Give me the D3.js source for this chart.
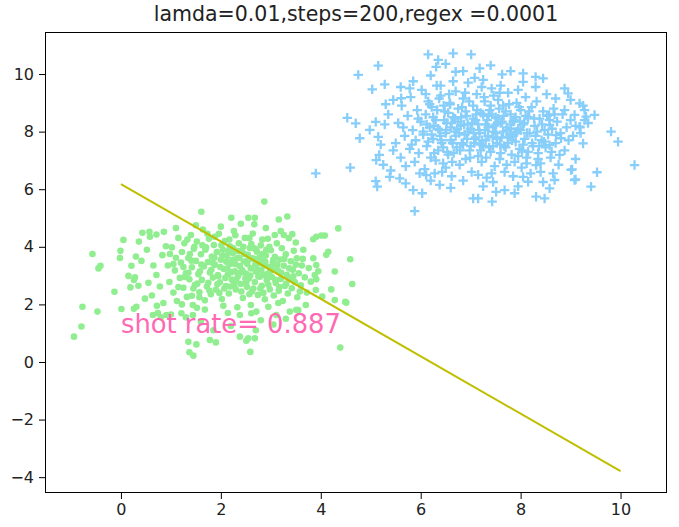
<!DOCTYPE html>
<html><head><meta charset="utf-8">
<script src="https://cdn.jsdelivr.net/npm/d3@7"></script>
<style>body{margin:0;background:#fff}svg{display:block}text{font-family:"DejaVu Sans",sans-serif}</style>
</head><body>
<script>
const titleText = "lamda=0.01,steps=200,regex =0.0001";
const annotText = "shot rate= 0.887";
const annotPos = [0, 1.0];
const xTicks = [0, 2, 4, 6, 8, 10];
const yTicks = [-4, -2, 0, 2, 4, 6, 8, 10];
const xLimits = [-1.52, 10.93];
const yLimits = [-4.55, 11.46];
const lineX = [0, 10];
const lineY = [6.18, -3.79];

const greenPts = [
[-0.94,0.88],[-0.79,1.23],[-0.77,1.92],[-0.47,1.75],[-0.57,3.75],[-0.45,3.25],[-0.41,3.34],[-0.13,2.44],[0.01,1.84],[0.26,1.85],[0.31,1.92],[0.05,4.24],[-0.01,3.86],[-0.02,3.61],[0.36,4.18],[0.43,4.49],[0.57,4.52],[0.58,4.35],[0.71,4.43],[0.86,4.52],[0.21,3.34],[0.15,2.99],[0.28,2.94],[0.26,2.85],[0.19,2.59],[0.35,2.65],[0.30,3.66],[0.41,3.51],[1.35,0.70],[1.51,0.61],[1.37,0.34],[1.45,0.22],[1.61,5.22],[2.87,5.57],[2.21,5.01],[2.55,5.01],[2.68,5.01],[3.16,4.95],[3.33,5.05],[2.67,4.78],[3.08,4.41],[3.26,4.41],[3.43,4.44],[3.85,4.26],[3.91,4.35],[4.01,4.39],[4.08,4.39],[4.35,4.64],[4.15,3.83],[4.11,3.72],[4.59,3.57],[3.91,3.37],[4.28,3.14],[3.88,3.02],[3.91,2.87],[4.21,2.52],[4.63,2.71],[4.03,2.27],[4.28,2.15],[4.49,2.09],[4.39,0.50],[2.59,0.35],[2.38,0.88],[2.55,0.82],[2.68,0.82],[1.90,0.68],[1.78,0.76],[2.51,0.74],
[0.64,1.63],[0.74,1.70],[0.91,1.63],[1.21,1.69],[1.44,1.63],[2.14,1.70],[2.38,1.63],[2.61,1.69],[2.71,1.75],[3.11,1.63],[3.38,1.75],[3.51,1.81],[4.51,2.06],
[0.62,2.31],[0.71,3.02],[0.78,2.62],[0.83,3.71],[0.85,2.05],[0.9,4.02],[0.94,3.35],[0.97,2.78],[1.02,3.98],[1.05,2.41],[1.08,3.18],[1.1,3.62],[1.12,2.12],[1.15,4.31],[1.18,2.92],[1.2,3.45],[1.22,3.82],[1.25,2.58],[1.27,4.12],[1.3,3.08],[1.32,2.26],[1.35,3.61],[1.37,2.87],[1.4,4.41],[1.42,3.29],[1.44,1.98],[1.46,3.93],[1.48,2.67],[1.5,3.51],[1.52,4.18],[1.55,3.05],[1.57,2.42],[1.6,3.74],[1.62,2.85],[1.64,4.6],[1.66,3.32],[1.68,2.14],[1.7,3.98],[1.72,2.62],[1.74,3.47],[1.76,4.28],[1.78,3.11],[1.8,2.35],[1.82,3.66],[1.84,2.93],[1.86,4.06],[1.88,3.38],[1.9,2.51],[1.92,3.82],[1.94,3.02],[1.96,4.45],[1.98,2.77],[2.0,3.55],[2.02,2.19],[2.04,3.9],[2.06,3.23],[2.08,4.2],[2.1,2.64],[2.12,3.68],[2.14,3.04],[2.16,2.38],[2.18,4.02],[2.2,3.41],[2.22,2.86],[2.24,3.78],[2.26,4.55],[2.28,3.15],[2.3,2.52],[2.32,3.6],[2.34,2.98],[2.36,4.12],[2.38,3.33],[2.4,2.71],[2.42,3.86],[2.44,2.22],[2.46,3.49],[2.48,4.31],[2.5,3.07],[2.52,2.61],[2.54,3.72],[2.56,2.9],[2.58,3.96],[2.6,3.25],[2.62,2.45],[2.64,4.46],[2.66,3.58],[2.68,2.78],[2.7,3.14],[2.72,3.83],[2.74,2.33],[2.76,3.42],[2.78,2.96],[2.8,4.05],[2.82,2.65],[2.84,3.51],[2.86,3.02],[2.88,2.18],[2.9,3.7],[2.92,2.84],[2.94,4.28],[2.96,3.3],[2.98,2.52],[3.0,3.88],[3.02,2.95],[3.04,3.44],[3.06,2.31],[3.08,3.65],[3.1,2.74],[3.12,4.12],[3.14,3.18],[3.16,2.47],[3.18,3.56],[3.2,2.88],[3.22,3.95],[3.24,2.12],[3.26,3.34],[3.28,2.64],[3.3,3.74],[3.32,3.03],[3.34,2.38],[3.36,4.3],[3.38,2.9],[3.4,3.5],[3.42,2.56],[3.44,3.2],[3.46,3.86],[3.48,2.78],[3.5,3.38],[3.53,2.25],[3.56,3.08],[3.6,2.66],[3.64,3.58],[3.68,2.94],[3.72,2.41],[3.76,3.26],[3.8,2.79],[3.85,3.6],[3.9,2.5],[3.95,3.15],
[1.25,3.3],[1.38,3.75],[1.45,2.55],[1.58,3.15],[1.63,4.05],[1.75,2.75],[1.83,3.45],[1.88,4.35],[1.95,2.98],[2.03,3.7],[2.07,2.55],[2.13,3.25],[2.17,4.25],[2.23,3.55],[2.27,2.7],[2.35,3.85],[2.39,3.1],[2.45,4.0],[2.49,2.9],[2.53,3.4],[2.57,2.35],[2.63,3.6],[2.67,3.95],[2.73,3.2],[2.79,2.55],[2.83,3.75],[2.87,3.35],[2.93,3.05],[2.97,4.0],[3.03,3.25],[1.15,2.6],[1.05,3.4],[0.98,3.75],[1.33,4.25],[1.52,1.88],[1.68,1.82],[2.05,1.95],[2.33,1.9],[2.6,1.98],[2.95,1.92],[3.15,2.05],[0.72,1.95],[0.65,3.35],[0.55,2.75],[0.48,2.2],[0.52,3.9],[1.0,1.65],[1.3,1.55],[2.8,1.45],[3.3,1.5],[3.05,1.3],[1.6,1.4],[2.2,1.25],[1.85,1.1],[2.7,1.1],[3.55,1.8],[3.7,1.98],[1.1,4.65],[1.5,4.75],[2.0,4.7],[2.4,4.8],[2.9,4.65],[3.2,4.55],[3.5,4.15],[3.65,3.9],[0.8,1.55],
[1.28,2.95],[1.41,3.52],[1.53,2.72],[1.61,3.38],[1.69,3.9],[1.77,2.48],[1.81,3.2],[1.87,3.62],[1.93,2.7],[1.99,3.3],[2.01,4.05],[2.09,2.92],[2.11,3.48],[2.15,3.85],[2.19,2.62],[2.21,3.12],[2.25,3.95],[2.29,3.4],[2.31,2.85],[2.37,3.62],[2.41,2.45],[2.43,3.18],[2.47,3.75],[2.51,2.78],[2.55,3.55],[2.59,3.0],[2.61,4.1],[2.65,2.55],[2.69,3.38],[2.71,3.9],[2.75,2.98],[2.77,3.62],[2.81,3.18],[2.85,2.4],[2.89,3.48],[2.91,3.9],[2.95,2.68],[2.99,3.15],[3.05,3.55],[3.09,2.85],[3.13,3.38],[3.17,2.6],[3.21,3.1],[3.27,3.58],[3.31,2.72],[3.37,3.25],[3.45,2.98],[3.52,3.6],[1.35,3.1],[1.47,4.0],[1.57,2.25],[1.73,4.45],[1.97,2.4],[2.29,4.4],[2.57,4.3],[2.83,4.25],[1.22,2.0],[1.42,2.3],[3.58,2.45],[3.62,3.35]
];

const bluePts = [
[6.15,10.68],[6.65,10.72],[6.35,10.49],[6.31,10.25],[5.15,10.29],[4.75,9.97],[5.03,9.47],[5.28,9.64],[6.70,10.08],[4.53,8.48],[4.70,8.29],[4.78,7.77],[4.98,8.06],[5.10,8.34],[5.28,8.25],[5.15,7.82],[4.59,6.75],[5.10,6.28],[5.13,6.09],[5.88,5.24],[5.85,5.97],[6.03,5.86],[5.45,9.1],[5.61,9.16],[5.78,9.5],[5.38,6.43],[5.58,6.38],[5.17,7.19],[5.11,7.01],[5.98,6.55],[6.11,6.49],[6.38,6.15],[3.90,6.55],
[7.01,10.68],[7.18,10.2],[7.08,9.87],[7.63,9.99],[8.05,10.02],[8.05,9.73],[8.45,9.85],[8.88,9.5],[8.95,9.33],[9.18,8.98],[8.88,8.75],[9.08,8.58],[9.28,8.75],[9.31,8.52],[9.18,8.17],[8.57,8.58],[8.58,8.23],[8.71,7.88],[8.81,7.77],[9.25,7.59],[8.58,7.53],[8.78,7.19],[9.1,7.05],[8.35,7.05],[8.31,6.84],[9.01,6.67],[8.65,6.55],[8.68,6.32],[9.08,6.32],[8.58,6.03],[8.05,6.43],[7.88,5.86],[7.68,5.97],[7.51,5.91],[7.05,5.68],[7.15,5.68],[7.43,5.57],[8.15,6.26],[8.31,5.74],[8.48,5.68],
[9.48,8.58],[9.28,8.40],[9.19,8.15],[9.81,8.0],[9.95,7.65],[10.28,6.84],[9.53,6.59],[9.03,6.69],[9.1,6.34],[9.41,6.09],
[5.5,7.6],[5.55,8.3],[5.6,7.1],[5.62,8.9],[5.68,7.85],[5.7,6.8],[5.74,8.55],[5.78,7.4],[5.8,9.2],[5.84,8.05],[5.88,6.95],[5.9,7.7],[5.93,8.75],[5.96,7.25],[6.0,8.35],[6.02,9.45],[6.05,7.9],[6.08,6.7],[6.1,8.6],[6.12,7.5],[6.15,9.05],[6.18,8.15],[6.2,7.1],[6.22,8.85],[6.25,7.75],[6.28,6.55],[6.3,8.4],[6.32,9.6],[6.35,7.35],[6.38,8.05],[6.4,9.25],[6.42,7.6],[6.45,6.9],[6.48,8.7],[6.5,7.95],[6.52,8.3],[6.55,7.2],[6.58,9.0],[6.6,7.7],[6.62,6.45],[6.65,8.5],[6.68,8.0],[6.7,9.4],[6.72,7.45],[6.75,8.8],[6.78,6.85],[6.8,8.2],[6.82,7.6],[6.85,9.15],[6.88,7.9],[6.9,7.05],[6.92,8.55],[6.95,9.7],[6.98,7.35],[7.0,8.1],[7.02,6.6],[7.05,8.9],[7.08,7.75],[7.1,8.4],[7.12,9.3],[7.15,7.15],[7.18,7.95],[7.2,8.65],[7.22,6.95],[7.25,7.5],[7.28,9.05],[7.3,8.25],[7.32,6.4],[7.35,7.85],[7.38,8.75],[7.4,7.3],[7.42,9.5],[7.45,8.0],[7.48,6.8],[7.5,8.5],[7.52,7.6],[7.55,9.1],[7.58,7.05],[7.6,8.3],[7.62,7.8],[7.65,8.9],[7.68,6.6],[7.7,7.45],[7.72,8.15],[7.75,9.35],[7.78,7.9],[7.8,8.6],[7.82,7.2],[7.85,8.35],[7.88,6.95],[7.9,7.65],[7.92,9.0],[7.95,8.1],[7.98,7.4],[8.0,8.75],[8.02,6.75],[8.05,8.25],[8.08,7.75],[8.1,9.2],[8.12,7.1],[8.15,8.5],[8.18,7.95],[8.2,6.55],[8.22,8.85],[8.25,7.5],[8.28,8.2],[8.3,7.85],[8.32,9.05],[8.35,7.25],[8.38,8.45],[8.4,6.9],[8.42,7.7],[8.45,8.7],[8.48,8.05],[8.5,7.45],[8.52,9.3],[8.55,7.9],[8.58,8.4],[8.6,7.1],[8.63,8.1],[8.66,8.8],[8.7,7.6],[8.73,8.35],[8.76,6.85],[8.8,7.95],[8.84,8.6],[8.88,7.35],[8.92,8.15],[8.96,7.7],[9.0,8.4],[9.05,7.85],[9.1,8.2],[9.2,7.95],[9.35,8.3],
[6.05,8.0],[6.15,7.65],[6.25,8.5],[6.35,8.1],[6.45,7.45],[6.55,8.65],[6.6,8.15],[6.7,7.85],[6.75,8.35],[6.85,7.55],[6.9,8.7],[6.95,8.0],[7.0,7.5],[7.05,8.45],[7.1,7.8],[7.15,8.25],[7.2,7.35],[7.25,8.6],[7.3,7.7],[7.35,8.15],[7.4,8.9],[7.45,7.5],[7.5,7.95],[7.55,8.45],[7.6,7.25],[7.65,8.0],[7.7,8.7],[7.75,7.6],[7.8,8.25],[7.85,7.85],[7.9,8.5],[7.95,7.15],[8.0,8.05],[8.05,7.55],[8.1,8.55],[8.15,7.3],[6.3,7.0],[6.5,6.75],[6.85,6.3],[7.15,6.5],[7.45,6.25],[7.85,6.45],[6.1,9.3],[6.4,9.6],[6.65,9.75],[7.25,9.8],[7.6,9.6],[7.95,9.45],[8.3,9.55],[6.2,6.3],[5.7,6.2],[6.6,6.05],[7.25,6.1],[7.95,6.1],[8.45,6.25],[5.35,8.6],[5.45,7.35],[5.3,8.95],[5.6,9.55],[5.85,9.75],[6.2,9.95],[6.85,10.1],[7.4,10.3],[6.5,10.35],[7.8,10.1],[8.3,9.9],[8.7,9.15],[9.0,9.1],[9.25,8.9],[8.4,6.6],[5.2,7.55],[5.25,6.85],[5.4,6.65],
[6.22,7.9],[6.33,8.75],[6.41,7.7],[6.47,8.4],[6.53,7.3],[6.59,8.95],[6.64,7.6],[6.69,8.45],[6.73,8.1],[6.79,7.35],[6.83,8.85],[6.87,8.25],[6.93,7.75],[6.97,9.05],[7.03,8.3],[7.07,7.6],[7.13,8.75],[7.17,8.05],[7.23,7.7],[7.27,9.2],[7.33,8.4],[7.37,7.45],[7.43,8.6],[7.47,8.2],[7.53,7.75],[7.57,8.8],[7.63,8.35],[7.67,7.5],[7.73,8.05],[7.77,8.95],[7.83,7.7],[7.87,8.4],[7.93,8.0],[7.97,8.85],[8.03,7.35],[8.07,8.3],[8.13,7.95],[8.17,8.7],[8.23,7.6],[8.27,8.45],[8.33,8.0],[8.37,7.5],[8.43,8.25],[8.47,7.65],[8.53,8.55],[6.12,8.25],[6.18,8.95],[6.27,7.25],[6.37,9.15],[6.43,6.6],[6.57,9.3],[6.63,6.95],[7.22,9.55],[7.58,9.35],[7.42,6.55],[7.72,6.85],[8.12,6.9],[8.62,7.3],[8.68,8.6],[5.95,8.45],[5.82,7.55],[5.65,8.15],
[6.26,8.2],[6.39,7.85],[6.51,8.05],[6.62,8.3],[6.77,7.95],[6.81,8.5],[6.94,8.25],[7.06,7.95],[7.11,8.6],[7.19,7.55],[7.29,8.05],[7.36,8.55],[7.44,7.8],[7.51,8.25],[7.59,7.55],[7.66,8.55],[7.74,7.8],[7.81,8.1],[7.89,7.95],[7.99,8.35],[6.66,7.25],[6.99,7.1],[7.31,7.1],[6.46,8.9],[6.89,9.35],[7.46,9.25]
];

const W = 679, H = 527;
const m = {left: 45, right: 667, top: 32, bottom: 493};
const svg = d3.select("body").append("svg").attr("width", W).attr("height", H);
const x = d3.scaleLinear().domain(xLimits).range([m.left, m.right]);
const y = d3.scaleLinear().domain(yLimits).range([m.bottom, m.top]);

const plot = svg.append("g");
plot.selectAll("circle.g").data(greenPts).join("circle")
  .attr("cx", d => x(d[0])).attr("cy", d => y(d[1])).attr("r", 3.3)
  .attr("fill", "#90ee90");
const arm = 4.7;
plot.selectAll("path.b").data(bluePts).join("path")
  .attr("d", d => `M${x(d[0])-arm},${y(d[1])}h${2*arm}M${x(d[0])},${y(d[1])-arm}v${2*arm}`)
  .attr("stroke", "#87cefa").attr("stroke-width", 2.3).attr("fill", "none");

plot.append("path")
  .datum(lineX.map((v, i) => [v, lineY[i]]))
  .attr("d", d3.line().x(d => x(d[0])).y(d => y(d[1])))
  .attr("stroke", "#bfbf00").attr("stroke-width", 2).attr("fill", "none");

svg.append("text").attr("x", x(annotPos[0])).attr("y", y(annotPos[1]))
  .attr("fill", "#ff69b4").attr("font-size", 25.8).text(annotText);

const xAxis = svg.append("g").attr("transform", `translate(0,${m.bottom})`)
  .call(d3.axisBottom(x).tickValues(xTicks).tickSize(6).tickPadding(5));
const yAxis = svg.append("g").attr("transform", `translate(${m.left},0)`)
  .call(d3.axisLeft(y).tickValues(yTicks).tickSize(6).tickPadding(5));
[xAxis, yAxis].forEach(a => {
  a.select(".domain").remove();
  a.selectAll("line").attr("stroke", "#000").attr("stroke-width", 1);
  a.selectAll("text").attr("font-size", 16).attr("fill", "#222").attr("font-family", '"DejaVu Sans",sans-serif');
});

svg.append("rect").attr("x", m.left + 0.5).attr("y", m.top + 0.5)
  .attr("width", m.right - m.left - 1).attr("height", m.bottom - m.top - 1)
  .attr("fill", "none").attr("stroke", "#000").attr("stroke-width", 1);

svg.append("text").attr("x", (m.left + m.right) / 2).attr("y", 21)
  .attr("text-anchor", "middle").attr("font-size", 20.5).attr("fill", "#222").text(titleText);
</script>
</body></html>
